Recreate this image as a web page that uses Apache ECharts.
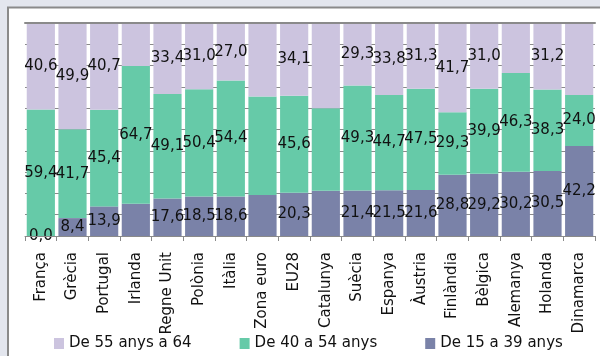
<!DOCTYPE html>
<html>
<head>
<meta charset="utf-8">
<script src="https://cdn.jsdelivr.net/npm/echarts@6/dist/echarts.min.js"></script>
<style>
  html, body { margin: 0; padding: 0; background: #e3e6ee; }
  #chart { width: 600px; height: 356px; }
</style>
</head>
<body>
<div id="chart"></div>
<script>
// Age structure of employed population (%), by country
const categories = ['França', 'Grècia', 'Portugal', 'Irlanda', 'Regne Unit', 'Polònia', 'Itàlia', 'Zona euro', 'EU28',
  'Catalunya', 'Suècia', 'Espanya', 'Àustria', 'Finlàndia', 'Bèlgica', 'Alemanya', 'Holanda', 'Dinamarca'];
const age55to64 = [40.6, 49.9, 40.7, 20.2, 33.4, 31.0, 27.0, 34.5, 34.1, 40.0, 29.3, 33.8, 31.3, 41.7, 31.0, 23.5, 31.2, 33.8];
const age40to54 = [59.4, 41.7, 45.4, 64.7, 49.1, 50.4, 54.4, 46.2, 45.6, 38.8, 49.3, 44.7, 47.5, 29.3, 39.9, 46.3, 38.3, 24.0];
const age15to39 = [0.0, 8.4, 13.9, 15.1, 17.6, 18.5, 18.6, 19.3, 20.3, 21.2, 21.4, 21.5, 21.6, 28.8, 29.2, 30.2, 30.5, 42.2];
const seriesNames = ['De 55 anys a 64', 'De 40 a 54 anys', 'De 15 a 39 anys'];
const yTicks = [0, 10, 20, 30, 40, 50, 60, 70, 80, 90, 100];

// segments drawn without a value label
const unlabelled55 = ['Irlanda', 'Zona euro', 'Catalunya', 'Alemanya', 'Dinamarca'];
const unlabelled40 = ['Zona euro', 'Catalunya'];
const unlabelled15 = ['Irlanda', 'Zona euro', 'Catalunya'];

const FONT = 'DejaVu Sans';
const fmt = v => v.toFixed(1).replace('.', ',');

function items(values, hidden) {
  return values.map((v, i) => hidden.includes(categories[i]) ? { value: v, label: { show: false } } : v);
}

function barSeries(name, values, hidden, color) {
  return {
    name: name,
    type: 'bar',
    stack: 'total',
    barCategoryGap: '11%',
    itemStyle: { color: color },
    label: {
      show: true,
      position: 'inside',
      formatter: p => fmt(p.value),
      fontFamily: FONT,
      fontSize: 15,
      color: '#111'
    },
    data: items(values, hidden)
  };
}

const chart = echarts.init(document.getElementById('chart'), null, { renderer: 'canvas' });
chart.setOption({
  backgroundColor: '#e3e6ee',
  animation: false,
  graphic: {
    elements: [{
      type: 'rect',
      z: -10,
      shape: { x: 8, y: 7.5, width: 620, height: 380 },
      style: { fill: '#ffffff', stroke: '#8a8a8a', lineWidth: 2 }
    }]
  },
  grid: { left: 25, right: 5, top: 23, bottom: 120 },
  legend: {
    data: seriesNames,
    left: 54,
    top: 336,
    padding: 0,
    icon: 'rect',
    itemWidth: 10,
    itemHeight: 11,
    itemGap: 48,
    textStyle: { fontFamily: FONT, fontSize: 15, color: '#111' }
  },
  xAxis: [{
    type: 'category',
    data: categories,
    z: 5,
    axisLine: { lineStyle: { color: '#8a8a8a', width: 1 } },
    axisTick: { show: true, length: 5, lineStyle: { color: '#8a8a8a' } },
    axisLabel: {
      interval: 0,
      rotate: 90,
      margin: 16,
      fontFamily: FONT,
      fontSize: 15,
      color: '#111'
    }
  }, {
    type: 'category',
    position: 'top',
    data: categories,
    z: 5,
    axisLine: { lineStyle: { color: '#8a8a8a', width: 2 } },
    axisTick: { show: false },
    axisLabel: { show: false }
  }],
  yAxis: {
    type: 'value',
    min: yTicks[0],
    max: yTicks[yTicks.length - 1],
    interval: yTicks[1] - yTicks[0],
    axisLine: { show: false },
    axisTick: { show: false },
    axisLabel: { show: false },
    splitLine: { lineStyle: { color: '#8a8a8a', width: 1 } }
  },
  series: [
    barSeries(seriesNames[2], age15to39, unlabelled15, '#7a82a8'),
    barSeries(seriesNames[1], age40to54, unlabelled40, '#66caa8'),
    barSeries(seriesNames[0], age55to64, unlabelled55, '#ccc4df')
  ]
});
</script>
</body>
</html>
